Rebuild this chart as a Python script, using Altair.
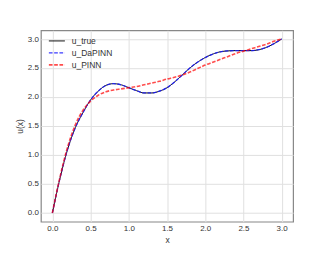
import altair as alt
import pandas as pd

x_vals = [0.0, 0.1, 0.2, 0.3, 0.4, 0.5, 0.6, 0.7, 0.8, 0.9, 1.0,
          1.1, 1.2, 1.3, 1.4, 1.5, 1.6, 1.7, 1.8, 1.9, 2.0,
          2.1, 2.2, 2.3, 2.4, 2.5, 2.6, 2.7, 2.8, 2.9, 3.0]
u_true = [0.0, 0.6, 1.1, 1.47, 1.73, 1.95, 2.1, 2.2, 2.23, 2.21, 2.16,
          2.11, 2.07, 2.07, 2.1, 2.16, 2.26, 2.38, 2.5, 2.6, 2.68,
          2.74, 2.78, 2.795, 2.8, 2.8, 2.8, 2.815, 2.855, 2.92, 3.0]
u_dapinn = [0.0, 0.6, 1.1, 1.47, 1.73, 1.95, 2.1, 2.2, 2.23, 2.21, 2.16,
            2.11, 2.07, 2.07, 2.1, 2.16, 2.26, 2.38, 2.5, 2.6, 2.68,
            2.74, 2.78, 2.795, 2.8, 2.8, 2.8, 2.815, 2.855, 2.92, 3.0]
u_pinn = [0.0, 0.62, 1.14, 1.52, 1.77, 1.93, 2.03, 2.09, 2.12, 2.14, 2.16,
          2.18, 2.21, 2.24, 2.27, 2.31, 2.34, 2.38, 2.43, 2.49, 2.55,
          2.6, 2.65, 2.7, 2.75, 2.79, 2.83, 2.87, 2.91, 2.96, 3.0]
series_names = ["u_true", "u_DaPINN", "u_PINN"]
tick_values = [0.0, 0.5, 1.0, 1.5, 2.0, 2.5, 3.0]

rows = []
for name, ys in zip(series_names, [u_true, u_dapinn, u_pinn]):
    for xv, yv in zip(x_vals, ys):
        rows.append({"x": xv, "u": yv, "series": name})
df = pd.DataFrame(rows)

legend = alt.Legend(
    title=None, orient="none", legendX=7, legendY=5, padding=0,
    symbolType="stroke", symbolSize=256,
    clipHeight=11.3, rowPadding=0, labelFontSize=8.5, labelColor="#333333",
    labelFont="Liberation Sans", labelOffset=6,
)
color_scale = alt.Scale(domain=series_names, range=["#000000", "#1a1aff", "#ff0000"])
dash_scale = alt.Scale(domain=series_names, range=[[1, 0], [3.7, 1.6], [3.7, 1.6]])
op_scale = alt.Scale(domain=series_names, range=[1.0, 0.7, 0.75])
sw_scale = alt.Scale(domain=series_names, range=[1.0, 1.6, 1.2])

x_enc = alt.X("x:Q", scale=alt.Scale(domain=[-0.15, 3.15], nice=False, zero=False),
              axis=alt.Axis(values=tick_values, format=".1f", title="x"))
y_enc = alt.Y("u:Q", scale=alt.Scale(domain=[-0.15, 3.15], nice=False, zero=False),
              axis=alt.Axis(values=tick_values, format=".1f", title="u(x)"))

layers = []
for name in series_names:
    layers.append(
        alt.Chart(df).transform_filter(alt.datum.series == name)
        .mark_line(interpolate="monotone", clip=True)
        .encode(
            x=x_enc, y=y_enc,
            color=alt.Color("series:N", scale=color_scale, sort=series_names, legend=legend),
            strokeDash=alt.StrokeDash("series:N", scale=dash_scale, sort=series_names, legend=legend),
            opacity=alt.Opacity("series:N", scale=op_scale, sort=series_names, legend=legend),
            strokeWidth=alt.StrokeWidth("series:N", scale=sw_scale, sort=series_names, legend=legend),
        )
    )

chart = alt.layer(*layers).properties(
    width=253, height=192,
    background="white",
    autosize=alt.AutoSizeParams(type="none"),
    padding={"left": 33, "top": 22, "right": 26, "bottom": 24},
).configure_view(
    stroke="#888888", strokeWidth=1.2
).configure_axis(
    grid=True, gridColor="#e0e0e0", gridWidth=1, domain=False, ticks=False,
    labelFont="Liberation Sans", labelFontSize=8, labelColor="#333333", labelPadding=2.5,
    titleFont="Liberation Sans", titleFontSize=8.5, titleColor="#333333",
    titleFontWeight="normal", titlePadding=3,
)

chart.save("out.html", embed_options={"renderer": "svg", "actions": False})
